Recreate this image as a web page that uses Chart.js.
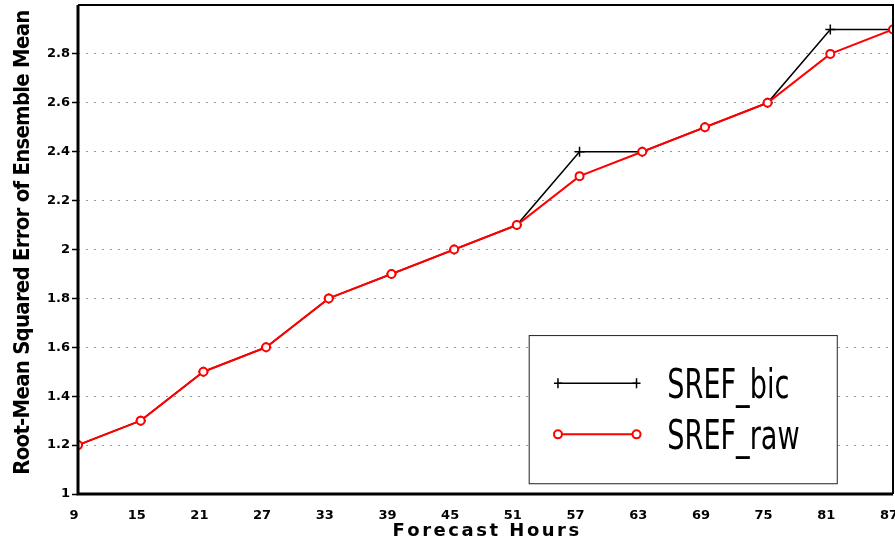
<!DOCTYPE html>
<html lang="en">
<head>
<meta charset="UTF-8">
<title>RMSE of Ensemble Mean</title>
<script src="https://cdn.jsdelivr.net/npm/chart.js"></script>
<style>
    body { margin: 0; background: #fff; }
    .chart-container { width: 895px; height: 546px; }
</style>
</head>
<body>
<div class="chart-container"><canvas id="grafico"></canvas></div>
<script>
    // values
    const forecastHours = [9, 15, 21, 27, 33, 39, 45, 51, 57, 63, 69, 75, 81, 87];
    const srefBic = [1.2, 1.3, 1.5, 1.6, 1.8, 1.9, 2.0, 2.1, 2.4, 2.4, 2.5, 2.6, 2.9, 2.9];
    const srefRaw = [1.2, 1.3, 1.5, 1.6, 1.8, 1.9, 2.0, 2.1, 2.3, 2.4, 2.5, 2.6, 2.8, 2.9];
    const yTicks = [1, 1.2, 1.4, 1.6, 1.8, 2, 2.2, 2.4, 2.6, 2.8];
    const seriesNames = ['SREF_bic', 'SREF_raw'];
    const xTitle = 'Forecast Hours';
    const yTitle = 'Root-Mean Squared Error of Ensemble Mean';

    const toPoints = vals => vals.map((v, i) => ({x: forecastHours[i], y: v}));

    // draw text with extra letter spacing so it fills a given width
    function spacedText(ctx, text, cx, cy, width) {
        const natural = ctx.measureText(text).width;
        const sp = (width - natural) / (text.length - 1);
        let x = cx - width / 2;
        for (const ch of text) {
            ctx.fillText(ch, x, cy);
            x += ctx.measureText(ch).width + sp;
        }
    }

    // frame around the plot area, axis titles and boxed legend, GrADS style
    const framePlugin = {
        id: 'frame',
        afterDatasetsDraw(chart) {
            const {ctx, chartArea: a} = chart;
            ctx.save();
            ctx.strokeStyle = '#000';
            ctx.lineWidth = 2;
            ctx.beginPath();
            ctx.moveTo(a.left, a.top); ctx.lineTo(a.right, a.top); ctx.lineTo(a.right, a.bottom);
            ctx.stroke();
            ctx.lineWidth = 3;
            ctx.beginPath();
            ctx.moveTo(a.left, a.top); ctx.lineTo(a.left, a.bottom); ctx.lineTo(a.right, a.bottom);
            ctx.stroke();
            ctx.restore();
        },
        afterDraw(chart) {
            const {ctx, chartArea: a} = chart;
            const w = a.right - a.left, h = a.bottom - a.top;

            // axis titles
            ctx.save();
            ctx.fillStyle = '#000';
            ctx.textBaseline = 'middle';
            ctx.font = 'bold 18px "DejaVu Sans", sans-serif';
            spacedText(ctx, xTitle, a.left + w * 0.5, 531, 186);
            ctx.translate(23, a.top + h * 0.485);
            ctx.rotate(-Math.PI / 2);
            ctx.font = 'bold 22px "Liberation Sans Narrow", "DejaVu Sans Condensed", sans-serif';
            spacedText(ctx, yTitle, 0, 0, 465);
            ctx.restore();

            // legend box
            const bx = a.left + w * 0.553, by = a.top + h * 0.675;
            const bw = w * 0.378, bh = h * 0.303;
            ctx.save();
            ctx.fillStyle = '#fff';
            ctx.fillRect(bx, by, bw, bh);
            ctx.strokeStyle = '#222';
            ctx.lineWidth = 1;
            ctx.strokeRect(bx + 0.5, by + 0.5, bw, bh);

            const rows = [
                {name: seriesNames[0], color: '#000', y: by + bh * 0.325},
                {name: seriesNames[1], color: '#ff0000', y: by + bh * 0.67}
            ];
            const x1 = bx + bw * 0.095, x2 = bx + bw * 0.35;
            ctx.font = '40px "Liberation Sans Narrow", "DejaVu Sans Condensed", sans-serif';
            const sx = 122 / ctx.measureText(seriesNames[0]).width;
            rows.forEach((r, i) => {
                ctx.strokeStyle = r.color;
                ctx.lineWidth = i === 0 ? 1.5 : 2;
                ctx.beginPath(); ctx.moveTo(x1, r.y); ctx.lineTo(x2, r.y); ctx.stroke();
                [x1, x2].forEach(px => {
                    ctx.beginPath();
                    if (i === 0) {
                        ctx.moveTo(px - 4, r.y); ctx.lineTo(px + 4, r.y);
                        ctx.moveTo(px, r.y - 5); ctx.lineTo(px, r.y + 5);
                    } else {
                        ctx.fillStyle = '#fff';
                        ctx.arc(px, r.y, 4, 0, Math.PI * 2);
                        ctx.fill();
                    }
                    ctx.stroke();
                });
                ctx.save();
                ctx.translate(bx + bw * 0.45, r.y + 15);
                ctx.scale(sx, 1);
                ctx.fillStyle = '#000';
                ctx.textBaseline = 'alphabetic';
                ctx.fillText(r.name, 0, 0);
                ctx.restore();
            });
            ctx.restore();
        }
    };

    const tickFont = {family: 'DejaVu Sans', weight: 'bold', size: 13};

    const ctx = document.getElementById('grafico').getContext('2d');
    const chart = new Chart(ctx, {
        type: 'line',
        data: {
            datasets: [{
                label: seriesNames[1],
                data: toPoints(srefRaw),
                borderColor: '#ff0000',
                backgroundColor: '#fff',
                borderWidth: 2,
                pointStyle: 'circle',
                pointRadius: 4,
                pointBorderWidth: 2,
                order: 0
            }, {
                label: seriesNames[0],
                data: toPoints(srefBic),
                borderColor: '#000',
                backgroundColor: '#000',
                borderWidth: 1.5,
                pointStyle: 'cross',
                pointRadius: 5,
                pointBorderWidth: 1.5,
                order: 1
            }]
        },
        options: {
            responsive: true,
            maintainAspectRatio: false,
            animation: false,
            layout: { autoPadding: false, padding: {top: 5, right: 2, left: 0, bottom: 0} },
            plugins: { legend: {display: false}, tooltip: {enabled: false} },
            scales: {
                x: {
                    type: 'linear',
                    min: 9,
                    max: 87,
                    afterBuildTicks: s => { s.ticks = forecastHours.map(v => ({value: v})); },
                    afterFit: s => { s.height = 52; s.paddingLeft = 0; s.paddingRight = 0; },
                    grid: { display: false },
                    border: { display: false },
                    ticks: {
                        padding: 6,
                        labelOffset: -4,
                        maxRotation: 0,
                        color: '#000',
                        font: tickFont
                    }
                },
                y: {
                    min: 1,
                    max: 3,
                    afterBuildTicks: s => { s.ticks = yTicks.map(v => ({value: v})); },
                    afterFit: s => { s.width = 78; s.paddingTop = 0; s.paddingBottom = 0; },
                    grid: {
                        color: c => (c.tick && c.tick.value === 1) ? 'rgba(0,0,0,0)' : '#999',
                        lineWidth: 1,
                        tickColor: '#000',
                        tickWidth: 1.5,
                        tickLength: 6,
                        tickBorderDash: []
                    },
                    border: { display: false, dash: [2, 6] },
                    ticks: {
                        padding: 2,
                        color: '#000',
                        font: tickFont,
                        callback: v => String(Math.round(v * 10) / 10)
                    }
                }
            }
        },
        plugins: [framePlugin]
    });
</script>
</body>
</html>
